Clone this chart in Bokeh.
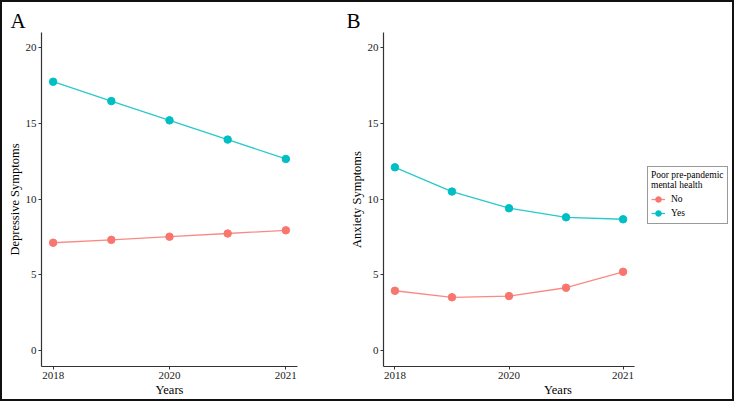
from bokeh.plotting import figure
from bokeh.layouts import row
from bokeh.models import Range1d, FixedTicker, Legend, LegendItem
from bokeh.embed import file_html
from bokeh.resources import INLINE

waves = [0, 1, 2, 3, 4]
tick_positions = [0, 2, 4]
tick_labels = ["2018", "2020", "2021"]
y_ticks = [0, 5, 10, 15, 20]

dep_no = [7.12, 7.31, 7.52, 7.73, 7.94]
dep_yes = [17.75, 16.47, 15.2, 13.93, 12.65]
anx_no = [3.95, 3.52, 3.6, 4.15, 5.2]
anx_yes = [12.1, 10.5, 9.4, 8.8, 8.67]

RED = "#F8766D"
CYAN = "#00BFC4"
FONT = "Liberation Serif"


def make_panel(letter, ylabel, no_vals, yes_vals, width, mb_left, mb_right, title_offset, x_end):
    p = figure(width=width, height=397, output_backend="svg", toolbar_location=None,
               x_range=Range1d(-0.2, x_end), y_range=Range1d(-1.05, 21))
    p.min_border_left = mb_left
    p.min_border_right = mb_right
    p.min_border_top = 30
    p.min_border_bottom = 33
    p.outline_line_color = None
    p.grid.visible = False
    p.title.text = letter
    p.title.align = "left"
    p.title.offset = title_offset
    p.title.text_font = FONT
    p.title.text_font_size = "21px"
    p.title.text_font_style = "normal"
    p.title.text_color = "black"
    p.title.standoff = 0

    for ax in (p.xaxis[0], p.yaxis[0]):
        ax.axis_line_color = "#333333"
        ax.axis_line_width = 1.2
        ax.major_tick_line_color = "#333333"
        ax.major_tick_out = 3
        ax.major_tick_in = 0
        ax.minor_tick_line_color = None
        ax.major_label_text_font = FONT
        ax.major_label_text_font_size = "11px"
        ax.major_label_text_color = "#222222"
        ax.axis_label_text_font = FONT
        ax.axis_label_text_font_size = "12.5px"
        ax.axis_label_text_font_style = "normal"
        ax.axis_label_text_color = "black"
        ax.major_label_standoff = 2
        ax.axis_label_standoff = 1

    p.xaxis[0].ticker = FixedTicker(ticks=tick_positions)
    p.xaxis[0].major_label_overrides = {t: l for t, l in zip(tick_positions, tick_labels)}
    p.xaxis[0].axis_label = "Years"
    p.xaxis[0].bounds = (-0.2, 4.2)
    p.yaxis[0].ticker = FixedTicker(ticks=y_ticks)
    p.yaxis[0].axis_label = ylabel

    l_no = p.line(waves, no_vals, line_color=RED, line_width=1.3, line_alpha=0.85)
    s_no = p.scatter(waves, no_vals, size=7.5, fill_color=RED, line_color=RED)
    l_yes = p.line(waves, yes_vals, line_color=CYAN, line_width=1.3, line_alpha=0.85)
    s_yes = p.scatter(waves, yes_vals, size=7.5, fill_color=CYAN, line_color=CYAN)
    return p, (l_no, s_no), (l_yes, s_yes)


pa, _, _ = make_panel("A", "Depressive Symptoms", dep_no, dep_yes, 340, 39, 45, -31, 4.2)
# panel B's frame extends to the right so the legend can sit beside the axes
pb, r_no, r_yes = make_panel("B", "Anxiety Symptoms", anx_no, anx_yes, 390, 41, 0, -37,
                             -0.2 + 4.4 * 349 / 251)

legend = Legend(items=[LegendItem(label="No", renderers=list(r_no)),
                       LegendItem(label="Yes", renderers=list(r_yes))],
                location=(264, 142))
legend.title = "Poor pre-pandemic\nmental health"
legend.title_text_font = FONT
legend.title_text_font_size = "9.5px"
legend.title_text_font_style = "normal"
legend.title_text_color = "black"
legend.title_standoff = 2
legend.label_text_font = FONT
legend.label_text_font_size = "9.5px"
legend.label_text_color = "black"
legend.glyph_width = 14
legend.glyph_height = 14
legend.label_height = 14
legend.label_standoff = 6
legend.spacing = 0
legend.padding = 3
legend.margin = 0
legend.border_line_color = "#333333"
legend.border_line_width = 1.2
pb.add_layout(legend)

layout = row(pa, pb, styles={"border": "2px solid #111111"})

open("out.html", "w").write(file_html(layout, INLINE))
